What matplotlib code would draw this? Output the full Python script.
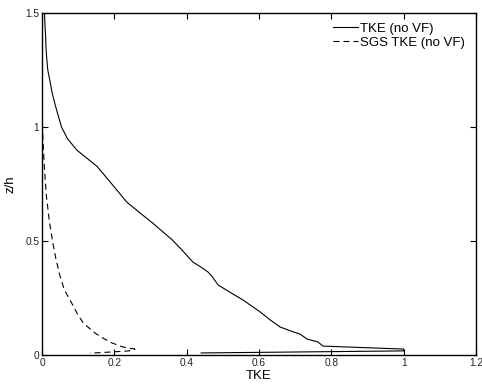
import matplotlib
matplotlib.use("Agg")
import matplotlib.pyplot as plt

plt.rcParams['font.family'] = ['Liberation Sans', 'DejaVu Sans']

# Resolved TKE profile (no VF)
tke = [0.007, 0.008, 0.010, 0.011, 0.013, 0.016, 0.022, 0.028, 0.036, 0.043, 0.054,
       0.070, 0.096, 0.125, 0.151, 0.172, 0.193, 0.214, 0.234, 0.271,
       0.305, 0.335, 0.360, 0.382, 0.417, 0.440, 0.459, 0.470, 0.487, 0.520, 0.556,
       0.603, 0.630, 0.658, 0.690, 0.713, 0.733, 0.763, 0.777, 1.0, 1.0, 0.44]
tke_z = [1.5, 1.45, 1.4, 1.35, 1.303, 1.25, 1.202, 1.15, 1.1, 1.06, 1.0,
         0.95, 0.899, 0.862, 0.829, 0.79, 0.75, 0.71, 0.671, 0.623,
         0.58, 0.539, 0.505, 0.469, 0.408, 0.385, 0.364, 0.345, 0.307, 0.275, 0.241,
         0.189, 0.155, 0.123, 0.104, 0.092, 0.070, 0.057, 0.039, 0.026, 0.018, 0.009]

# SGS TKE profile (no VF)
sgs = [0.002, 0.004, 0.007, 0.012, 0.020, 0.029, 0.039, 0.050, 0.062, 0.082,
       0.098, 0.114, 0.147, 0.170, 0.193, 0.224, 0.257, 0.240, 0.200, 0.133]
sgs_z = [0.97, 0.90, 0.81, 0.70, 0.59, 0.50, 0.417, 0.345, 0.285, 0.228,
         0.18, 0.14, 0.096, 0.073, 0.053, 0.035, 0.026, 0.018, 0.014, 0.008]

xticks = [0, 0.2, 0.4, 0.6, 0.8, 1.0, 1.2]
xticklabels = ['0', '0.2', '0.4', '0.6', '0.8', '1', '1.2']
yticks = [0, 0.5, 1.0, 1.5]
yticklabels = ['0', '0.5', '1', '1.5']

fig = plt.figure(figsize=(4.82, 3.85), dpi=100)
ax = fig.add_axes([42/482, 30/385, 434/482, 342/385])

ax.plot(tke, tke_z, color='black', lw=0.8, label='TKE (no VF)')
ax.plot(sgs, sgs_z, color='black', lw=0.8, dashes=(5.4, 3.6), label='SGS TKE (no VF)')

ax.set_xlim(0, 1.2)
ax.set_ylim(0, 1.5)
ax.set_xticks(xticks)
ax.set_xticklabels(xticklabels)
ax.set_yticks(yticks)
ax.set_yticklabels(yticklabels)
ax.tick_params(direction='in', length=4, width=0.8, top=True, right=True,
               labelsize=7.3, pad=2, labelcolor='#222222')
for s in ax.spines.values():
    s.set_linewidth(1.0)

ax.set_xlabel('TKE', fontsize=9.5)
ax.xaxis.set_label_coords(0.5, -15/342)
ax.set_ylabel('z/h', fontsize=9.5)
ax.yaxis.set_label_coords(-26/434, 0.5)

leg = ax.legend(loc='upper right', frameon=False, fontsize=9.5, handlelength=1.85,
                handletextpad=0.15, labelspacing=0.15, borderaxespad=0.0,
                bbox_to_anchor=(1 - 6/434, 1 - 4/342))

fig.savefig('out.png', dpi=100)
